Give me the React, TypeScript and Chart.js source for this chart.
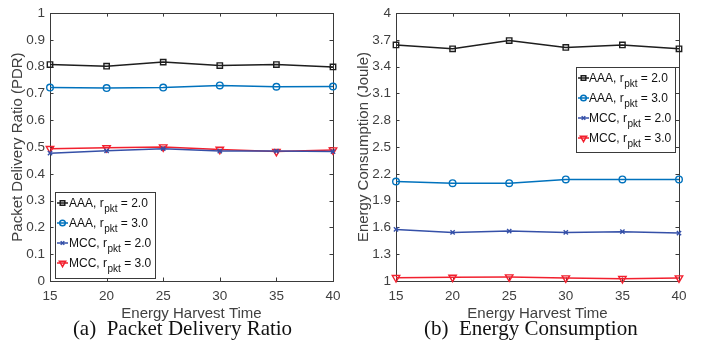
import React, { useEffect, useRef } from "react";
import { Chart, registerables } from "chart.js";

Chart.register(...registerables);

// ---------------- data ----------------
const harvestTimes = [15, 20, 25, 30, 35, 40];

const pdrTicks = [0, 0.1, 0.2, 0.3, 0.4, 0.5, 0.6, 0.7, 0.8, 0.9, 1];
const energyTicks = [1, 1.3, 1.6, 1.9, 2.2, 2.5, 2.8, 3.1, 3.4, 3.7, 4];

const seriesAlgo = ["AAA", "AAA", "MCC", "MCC"];
const seriesRpkt = ["2.0", "3.0", "2.0", "3.0"];

const pdrAAA2 = [0.808, 0.802, 0.817, 0.804, 0.808, 0.799];
const pdrAAA3 = [0.722, 0.72, 0.722, 0.73, 0.725, 0.726];
const pdrMCC2 = [0.477, 0.486, 0.494, 0.485, 0.485, 0.483];
const pdrMCC3 = [0.494, 0.497, 0.5, 0.491, 0.483, 0.489];

const energyAAA2 = [3.644, 3.6, 3.692, 3.615, 3.644, 3.6];
const energyAAA3 = [2.114, 2.096, 2.096, 2.137, 2.137, 2.137];
const energyMCC2 = [1.578, 1.544, 1.559, 1.544, 1.552, 1.537];
const energyMCC3 = [1.037, 1.041, 1.044, 1.033, 1.026, 1.033];

const xTitle = "Energy Harvest Time";
const pdrTitle = "Packet Delivery Ratio (PDR)";
const energyTitle = "Energy Consumption (Joule)";
const captionA = "(a)  Packet Delivery Ratio";
const captionB = "(b)  Energy Consumption";

// ---------------- styles ----------------
const STYLES = [
  { color: "#1e1e1e", marker: "rect", radius: 3.8, rotation: 0 },
  { color: "#0072BD", marker: "circle", radius: 3.3, rotation: 0 },
  { color: "#3550a8", marker: "crossRot", radius: 3, rotation: 0 },
  { color: "#f2202e", marker: "triangle", radius: 4.3, rotation: 180 },
];
const AXIS_COLOR = "#3a3a3a";
const TEXT_COLOR = "#404040";
const SANS = '"Liberation Sans", Arial, sans-serif';

function drawMarker(ctx: CanvasRenderingContext2D, kind: string, x: number, y: number, r: number) {
  ctx.beginPath();
  if (kind === "rect") {
    const s = r * Math.SQRT1_2;
    ctx.rect(x - s, y - s, 2 * s, 2 * s);
  } else if (kind === "circle") {
    ctx.arc(x, y, r, 0, Math.PI * 2);
  } else if (kind === "crossRot") {
    const s = r * Math.SQRT1_2;
    ctx.moveTo(x - s, y - s);
    ctx.lineTo(x + s, y + s);
    ctx.moveTo(x - s, y + s);
    ctx.lineTo(x + s, y - s);
  } else {
    const dx = r * Math.sin(Math.PI / 3);
    ctx.moveTo(x, y + r);
    ctx.lineTo(x - dx, y - r / 2);
    ctx.lineTo(x + dx, y - r / 2);
    ctx.closePath();
  }
  ctx.stroke();
}

type LegendBox = { x: number; y: number; w: number; h: number; firstRow: number; textX: number };

function makeFramePlugin(legend: LegendBox) {
  return {
    id: "matlabFrame",
    beforeDatasetsDraw(chart: any) {
      const { ctx, chartArea } = chart;
      const { left, right, top, bottom } = chartArea;
      ctx.save();
      ctx.strokeStyle = AXIS_COLOR;
      ctx.lineWidth = 1;
      ctx.strokeRect(Math.round(left) + 0.5, Math.round(top) + 0.5, Math.round(right - left), Math.round(bottom - top));
      const tl = 3.5;
      ctx.beginPath();
      const xs = chart.scales.x;
      xs.ticks.forEach((t: any) => {
        const px = Math.round(xs.getPixelForValue(t.value)) + 0.5;
        ctx.moveTo(px, bottom);
        ctx.lineTo(px, bottom - tl);
        ctx.moveTo(px, top);
        ctx.lineTo(px, top + tl);
      });
      const ys = chart.scales.y;
      ys.ticks.forEach((t: any) => {
        const py = Math.round(ys.getPixelForValue(t.value)) + 0.5;
        ctx.moveTo(left, py);
        ctx.lineTo(left + tl, py);
        ctx.moveTo(right, py);
        ctx.lineTo(right - tl, py);
      });
      ctx.stroke();
      ctx.restore();
    },
    afterDatasetsDraw(chart: any) {
      const { ctx } = chart;
      ctx.save();
      ctx.fillStyle = "#ffffff";
      ctx.fillRect(legend.x, legend.y, legend.w, legend.h);
      ctx.strokeStyle = AXIS_COLOR;
      ctx.lineWidth = 1;
      ctx.strokeRect(legend.x + 0.5, legend.y + 0.5, legend.w, legend.h);
      chart.data.datasets.forEach((ds: any, i: number) => {
        const st = STYLES[i];
        const cy = legend.y + legend.firstRow + i * 20;
        ctx.strokeStyle = st.color;
        ctx.lineWidth = 1.5;
        ctx.beginPath();
        ctx.moveTo(legend.x + 2, cy);
        ctx.lineTo(legend.x + 13, cy);
        ctx.stroke();
        drawMarker(ctx, st.marker, legend.x + 7.5, cy, st.radius * 0.85);
        ctx.fillStyle = "#111111";
        ctx.textBaseline = "alphabetic";
        ctx.textAlign = "left";
        let tx = legend.x + legend.textX;
        const base = cy + 4;
        ctx.font = `12px ${SANS}`;
        const p1 = `${seriesAlgo[i]}, r`;
        ctx.fillText(p1, tx, base);
        tx += ctx.measureText(p1).width + 0.5;
        ctx.font = `10px ${SANS}`;
        ctx.fillText("pkt", tx, base + 4.5);
        tx += ctx.measureText("pkt").width;
        ctx.font = `12px ${SANS}`;
        ctx.fillText(` = ${seriesRpkt[i]}`, tx, base);
      });
      ctx.restore();
    },
  };
}

function fmt(v: number) {
  return String(Number(Number(v).toFixed(1)));
}

function buildConfig(
  series: number[][],
  yTicks: number[],
  yTitle: string,
  yAxisWidth: number,
  yTitlePad: number,
  rightPad: number,
  legend: LegendBox
): any {
  return {
    type: "line",
    data: {
      datasets: series.map((arr, i) => ({
        label: `${seriesAlgo[i]}, r_pkt = ${seriesRpkt[i]}`,
        data: harvestTimes.map((x, j) => ({ x, y: arr[j] })),
        borderColor: STYLES[i].color,
        borderWidth: 1.5,
        pointStyle: STYLES[i].marker,
        pointRadius: STYLES[i].radius,
        pointRotation: STYLES[i].rotation,
        pointBorderColor: STYLES[i].color,
        pointBackgroundColor: "rgba(0,0,0,0)",
        pointBorderWidth: 1.4,
        tension: 0,
        clip: 10,
      })),
    },
    options: {
      animation: false,
      responsive: false,
      maintainAspectRatio: false,
      events: [],
      layout: { padding: { top: 11, right: rightPad, bottom: 20.5, left: 0 } },
      plugins: { legend: { display: false }, tooltip: { enabled: false } },
      scales: {
        x: {
          type: "linear",
          min: harvestTimes[0],
          max: harvestTimes[harvestTimes.length - 1],
          afterBuildTicks: (s: any) => {
            s.ticks = harvestTimes.map((v) => ({ value: v }));
          },
          afterFit: (s: any) => {
            s.height = 41.5;
          },
          grid: { display: false, drawTicks: false },
          border: { display: false },
          ticks: {
            color: TEXT_COLOR,
            font: { family: SANS, size: 13.5 },
            padding: 7,
            maxRotation: 0,
            autoSkip: false,
            callback: (v: any) => String(v),
          },
          title: {
            display: true,
            text: xTitle,
            color: TEXT_COLOR,
            font: { family: SANS, size: 15 },
            padding: { top: 0, bottom: 0 },
          },
        },
        y: {
          type: "linear",
          min: yTicks[0],
          max: yTicks[yTicks.length - 1],
          afterBuildTicks: (s: any) => {
            s.ticks = yTicks.map((v) => ({ value: v }));
          },
          afterFit: (s: any) => {
            s.width = yAxisWidth;
          },
          grid: { display: false, drawTicks: false },
          border: { display: false },
          ticks: {
            color: TEXT_COLOR,
            font: { family: SANS, size: 13.5 },
            padding: 5,
            autoSkip: false,
            callback: (v: any) => fmt(v),
          },
          title: {
            display: true,
            text: yTitle,
            color: TEXT_COLOR,
            font: { family: SANS, size: 15 },
            padding: { top: yTitlePad, bottom: 0 },
          },
        },
      },
    },
    plugins: [makeFramePlugin(legend)],
  };
}

export default function App() {
  const leftRef = useRef<HTMLCanvasElement | null>(null);
  const rightRef = useRef<HTMLCanvasElement | null>(null);

  useEffect(() => {
    const c1 = new Chart(
      leftRef.current as HTMLCanvasElement,
      buildConfig(
        [pdrAAA2, pdrAAA3, pdrMCC2, pdrMCC3],
        pdrTicks,
        pdrTitle,
        50,
        8.5,
        19,
        { x: 55, y: 192, w: 100, h: 86, firstRow: 11, textX: 14 }
      )
    );
    const c2 = new Chart(
      rightRef.current as HTMLCanvasElement,
      buildConfig(
        [energyAAA2, energyAAA3, energyMCC2, energyMCC3],
        energyTicks,
        energyTitle,
        44,
        2.5,
        26,
        { x: 224, y: 67, w: 99, h: 85, firstRow: 11, textX: 13 }
      )
    );
    return () => {
      c1.destroy();
      c2.destroy();
    };
  }, []);

  const captionStyle: React.CSSProperties = {
    position: "absolute",
    top: 317.5,
    width: 300,
    textAlign: "center",
    fontFamily: '"Liberation Serif", "Times New Roman", serif',
    fontSize: 21,
    lineHeight: "21px",
    color: "#111",
    whiteSpace: "pre",
  };

  return (
    <div style={{ position: "absolute", left: 0, top: 0, width: 705, height: 343, background: "#fff", overflow: "hidden" }}>
      <canvas ref={leftRef} width={352} height={343} style={{ position: "absolute", left: 0, top: 0, width: 352, height: 343 }} />
      <canvas ref={rightRef} width={353} height={343} style={{ position: "absolute", left: 352, top: 0, width: 353, height: 343 }} />
      <div style={{ ...captionStyle, left: 182.5 - 150 }}>{captionA}</div>
      <div style={{ ...captionStyle, left: 530.8 - 150 }}>{captionB}</div>
    </div>
  );
}
